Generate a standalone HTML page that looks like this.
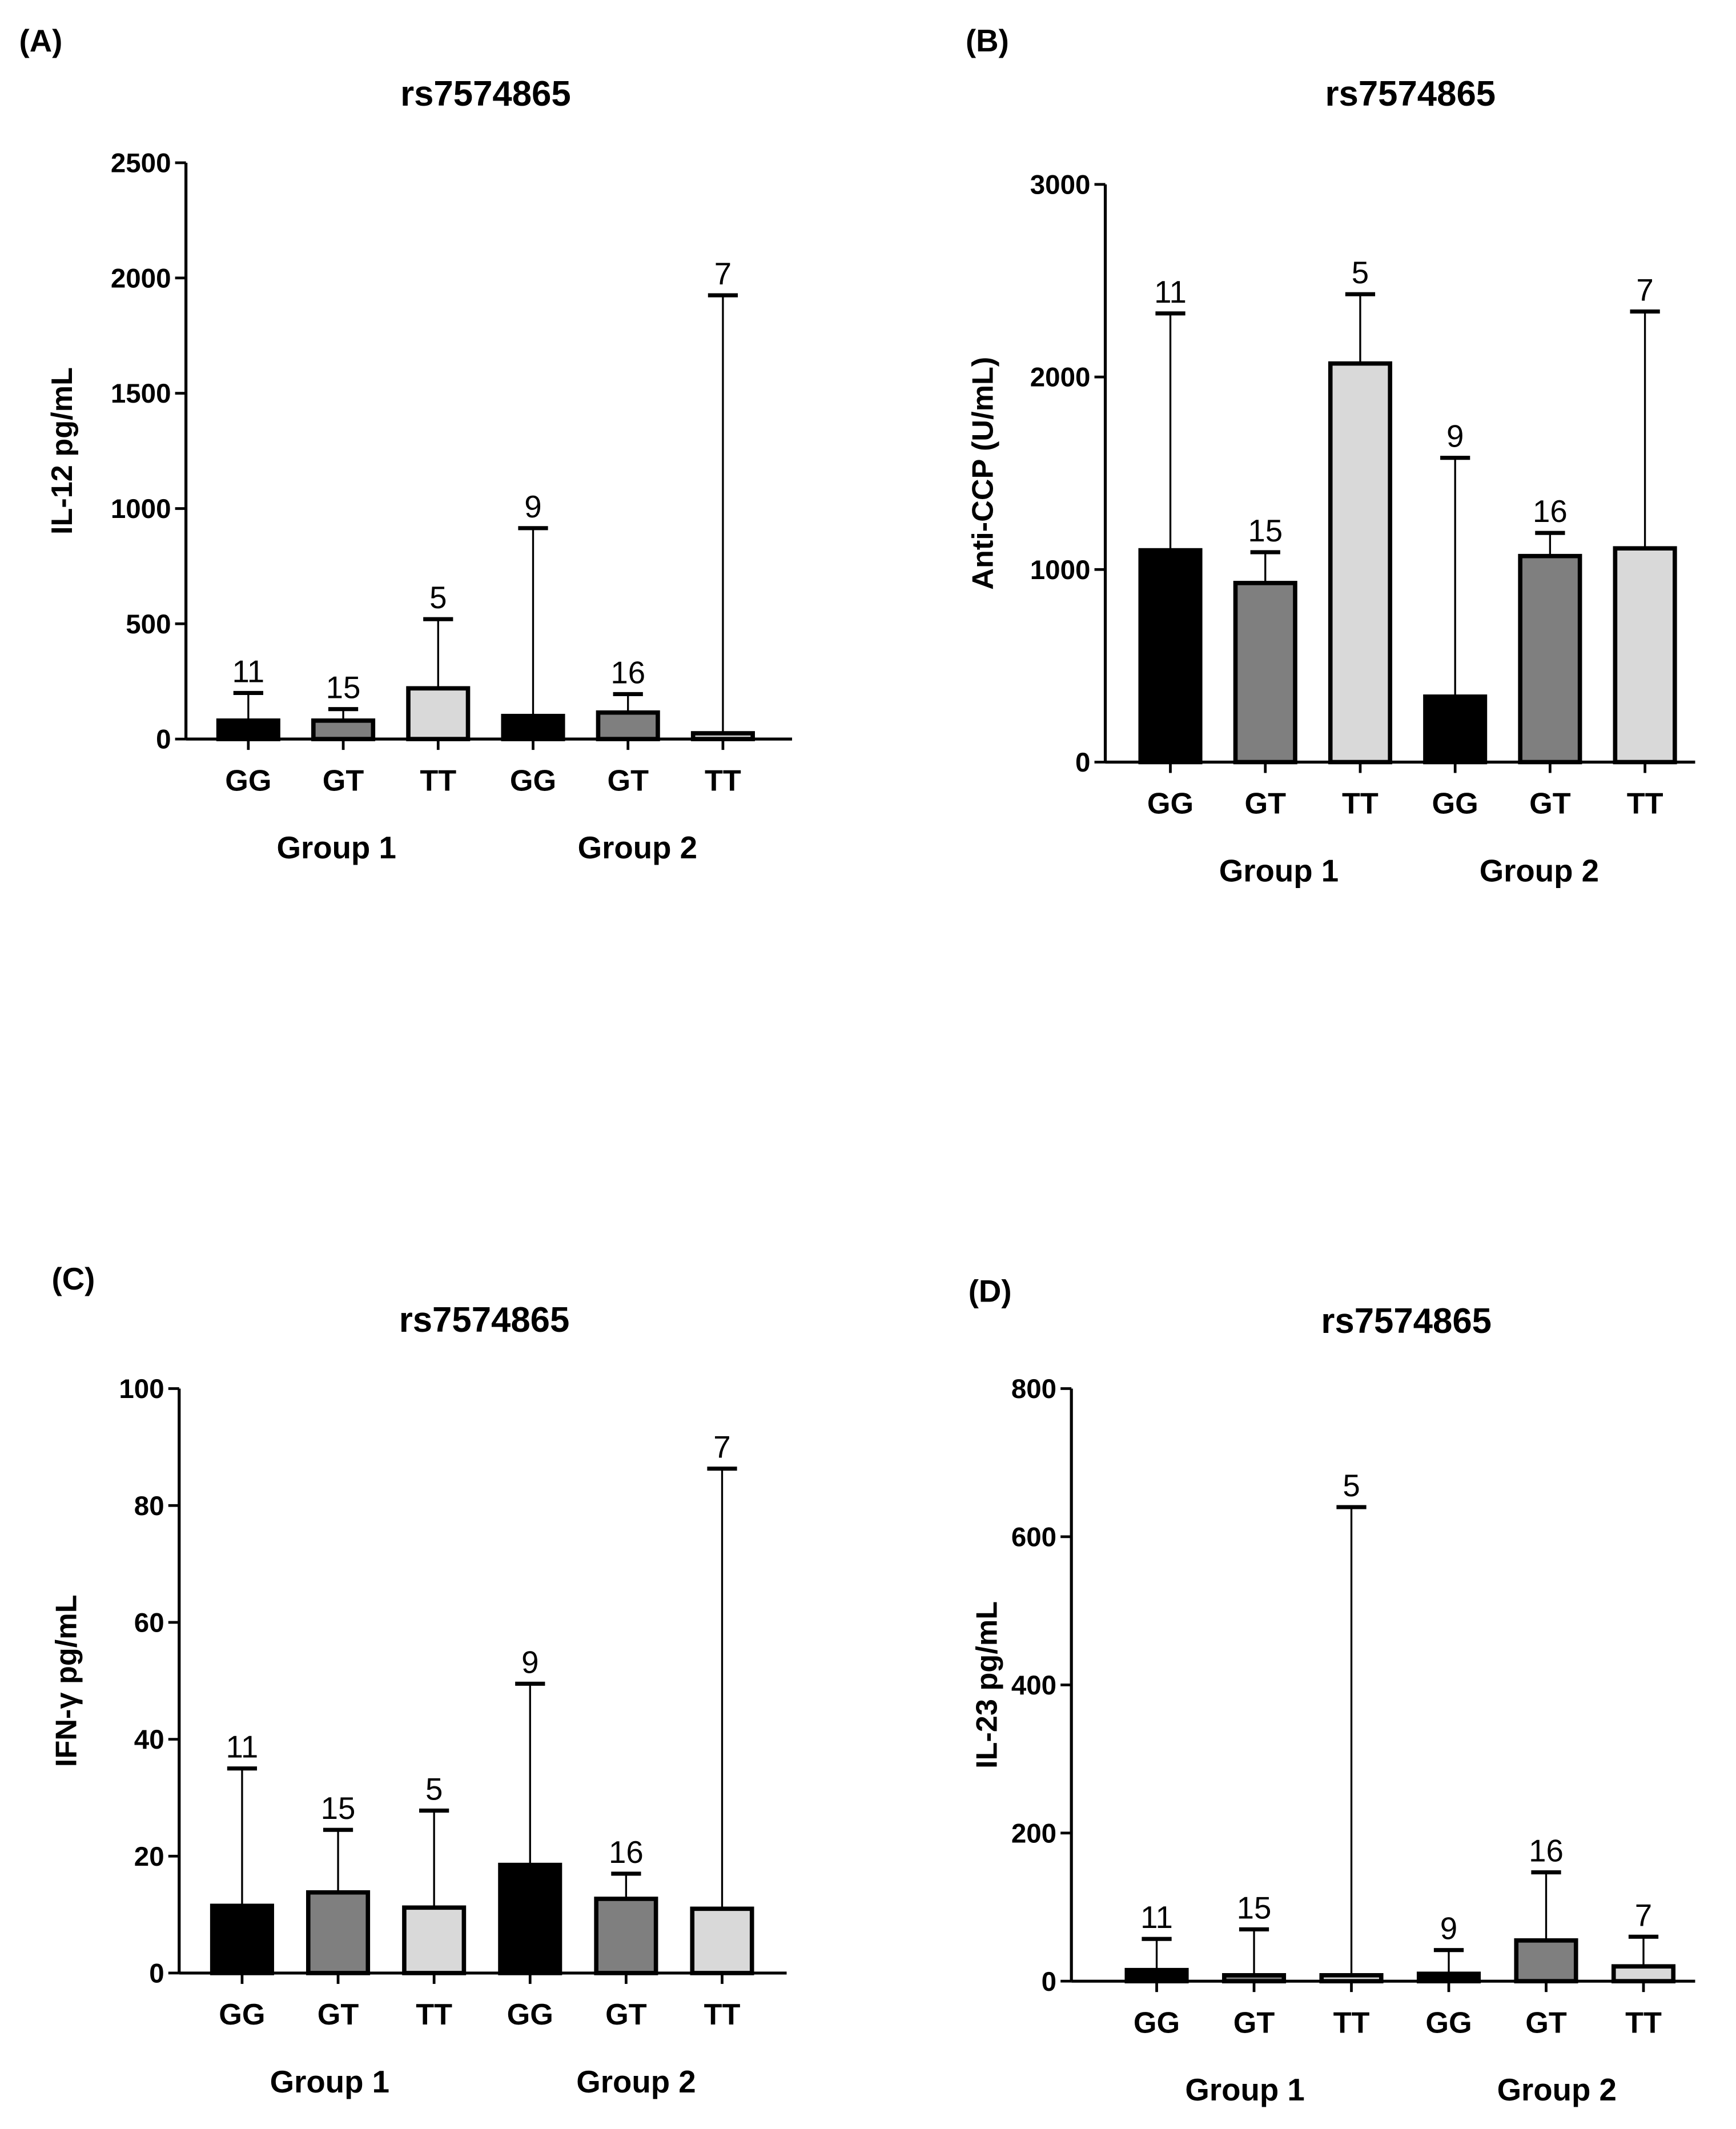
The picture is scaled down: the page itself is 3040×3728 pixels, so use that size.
<!DOCTYPE html>
<html><head><meta charset="utf-8"><style>
html,body{margin:0;padding:0;background:#fff}
svg{display:block}
text{font-family:"Liberation Sans",Arial,sans-serif}
</style></head><body>
<svg id="fig" width="3040" height="3728" viewBox="0 0 1280 1570" xmlns="http://www.w3.org/2000/svg"></svg>
<script>
const categories = ["GG","GT","TT","GG","GT","TT"];
const groupLabels = ["Group 1","Group 2"];
const meansA = [80,80,220,100,115,25];
const errA = [200,130,520,915,195,1925];
const nA = ["11","15","5","9","16","7"];
const ticksA = [0,500,1000,1500,2000,2500];
const meansB = [1100,930,2070,340,1070,1110];
const errB = [2330,1090,2430,1580,1190,2340];
const nB = ["11","15","5","9","16","7"];
const ticksB = [0,1000,2000,3000];
const meansC = [11.5,13.8,11.2,18.5,12.7,11];
const errC = [35,24.5,27.8,49.5,17,86.3];
const nC = ["11","15","5","9","16","7"];
const ticksC = [0,20,40,60,80,100];
const meansD = [15,8,8,10,55,20];
const errD = [57,70,640,42,147,60];
const nD = ["11","15","5","9","16","7"];
const ticksD = [0,200,400,600,800];

const fills = ["#000","#7f7f7f","#d9d9d9","#000","#7f7f7f","#d9d9d9"];
const NS="http://www.w3.org/2000/svg";
const svg=document.getElementById('fig');
function mk(tag,attrs,parent,txt){const e=document.createElementNS(NS,tag);for(const k in attrs)e.setAttribute(k,attrs[k]);if(txt!==undefined)e.textContent=txt;(parent||svg).appendChild(e);return e;}

function panel(cfg){
  const g=mk('g',{});
  
  
  const y=v=>cfg.y0-(v/cfg.ymax)*(cfg.y0-cfg.ytop);
  const t1=mk('text',{x:cfg.lx,y:cfg.ly,'font-size':23,'font-weight':'bold'},g,'('+cfg.id.toUpperCase()+')');
  
  const t2=mk('text',{x:cfg.tx,y:cfg.ty,'font-size':26,'font-weight':'bold','text-anchor':'middle'},g,'rs7574865');
  
  const yl=mk('text',{x:0,y:0,'font-size':22,'font-weight':'bold','text-anchor':'middle',transform:`translate(${cfg.ylx},${(cfg.y0+cfg.ytop)/2}) rotate(-90)`},g,cfg.ylabel);
  
  cfg.means.forEach((m,i)=>{
    const cx=cfg.x0+cfg.step*(i+0.5)+cfg.off;
    const top=y(cfg.err[i]);
    const el=mk('line',{x1:cx,x2:cx,y1:y(m),y2:top,stroke:'#000','stroke-width':1.4},g);
    
    const cap=mk('line',{x1:cx-11,x2:cx+11,y1:top,y2:top,stroke:'#000','stroke-width':3},g);
    
    const h=Math.max(cfg.y0-y(m),0);
    const r=mk('rect',{x:cx-22,y:cfg.y0-h,width:44,height:h,fill:fills[i],stroke:'#000','stroke-width':3.2},g);
    
    const nt=mk('text',{x:cx,y:top-8,'font-size':23,'text-anchor':'middle'},g,cfg.n[i]);
    
    const xt=mk('line',{x1:cx,x2:cx,y1:cfg.y0,y2:cfg.y0+8,stroke:'#000','stroke-width':2},g);
    
    const xl=mk('text',{x:cx,y:cfg.y0+38,'font-size':22,'font-weight':'bold','text-anchor':'middle'},g,categories[i]);
    
  });
  const ya=mk('line',{x1:cfg.x0,x2:cfg.x0,y1:cfg.ytop,y2:cfg.y0,stroke:'#000','stroke-width':2.2},g);
  
  const xa=mk('line',{x1:cfg.x0,x2:cfg.xend,y1:cfg.y0,y2:cfg.y0,stroke:'#000','stroke-width':2.2},g);
  
  cfg.ticks.forEach(t=>{
    const tk=mk('line',{x1:cfg.x0-8,x2:cfg.x0,y1:y(t),y2:y(t),stroke:'#000','stroke-width':2},g);
    
    const tl=mk('text',{x:cfg.x0-11,y:y(t)+7,'font-size':20,'font-weight':'bold','text-anchor':'end'},g,String(t));
    
  });
  groupLabels.forEach((gl,k)=>{
    const gt=mk('text',{x:cfg.gx[k],y:cfg.y0+88,'font-size':23,'font-weight':'bold','text-anchor':'middle'},g,gl);
    
  });
}
panel({id:'a',lx:14,ly:38,tx:358,ty:78,ylx:53,x0:137,xend:584,y0:545,ytop:120,ymax:2500,step:70,off:11,means:meansA,err:errA,n:nA,ticks:ticksA,ylabel:'IL-12 pg/mL',gx:[248,470]});
panel({id:'b',lx:712,ly:38,tx:1040,ty:78,ylx:732,x0:815,xend:1250,y0:562,ytop:136,ymax:3000,step:70,off:13,means:meansB,err:errB,n:nB,ticks:ticksB,ylabel:'Anti-CCP (U/mL)',gx:[943,1135]});
panel({id:'c',lx:38,ly:951,tx:357,ty:982,ylx:56,x0:132,xend:580,y0:1455,ytop:1024,ymax:100,step:70.8,off:11,means:meansC,err:errC,n:nC,ticks:ticksC,ylabel:'IFN-γ pg/mL',gx:[243,469]});
panel({id:'d',lx:714,ly:960,tx:1037,ty:983,ylx:735,x0:790,xend:1250,y0:1461,ytop:1024,ymax:800,step:71.8,off:27,means:meansD,err:errD,n:nD,ticks:ticksD,ylabel:'IL-23 pg/mL',gx:[918,1148]});
</script>
</body></html>
